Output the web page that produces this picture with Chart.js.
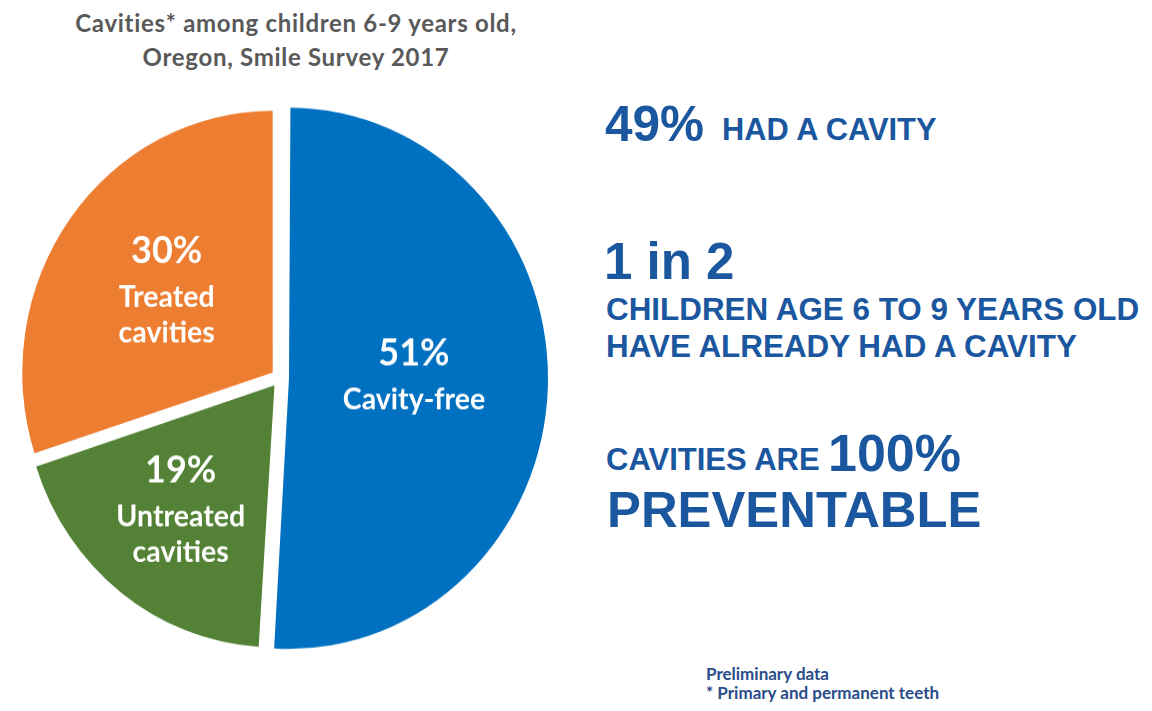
<!DOCTYPE html>
<html>
<head>
<meta charset="utf-8">
<script src="https://cdn.jsdelivr.net/npm/chart.js@4/dist/chart.umd.min.js"></script>
<style>
  html, body { margin: 0; padding: 0; background: #fff; }
  body { width: 1152px; height: 711px; position: relative; overflow: hidden; }
  .title {
    position: absolute; left: 46px; top: 6px; width: 500px;
    text-align: center; font-family: Lato, "Open Sans", sans-serif; font-weight: 700;
    font-size: 24px; letter-spacing: 0.7px; line-height: 34px; color: #595959;
  }
  #pieBox {
    position: absolute; left: 0; top: 100px; width: 560px; height: 556px;
    transform: scaleY(1.045); transform-origin: 50% 50%;
  }
  .fact {
    position: absolute; font-family: "Liberation Sans", Arial, sans-serif; font-weight: 700;
    line-height: 1; color: #1b579f; white-space: nowrap;
  }
  .note {
    position: absolute; left: 706px; top: 664px;
    font-family: Lato, "Open Sans", sans-serif; font-weight: 700;
    font-size: 17px; line-height: 19px; color: #2a4d8a;
  }
</style>
</head>
<body>
<div class="title">Cavities* among children 6-9 years old,<br>Oregon, Smile Survey 2017</div>
<div id="pieBox"><canvas id="pie"></canvas></div>

<div class="fact" style="left:605px; top:99px; font-size:49.5px;">49%</div>
<div class="fact" style="left:722px; top:115px; font-size:30.8px;">HAD A CAVITY</div>
<div class="fact" style="left:604px; top:236px; font-size:51px;">1 in 2</div>
<div class="fact" style="left:606px; top:294px; font-size:31.4px;">CHILDREN AGE 6 TO 9 YEARS OLD</div>
<div class="fact" style="left:606px; top:331px; font-size:31.4px;">HAVE ALREADY HAD A CAVITY</div>
<div class="fact" style="left:606px; top:444px; font-size:31px;">CAVITIES ARE</div>
<div class="fact" style="left:828px; top:427px; font-size:52px;">100%</div>
<div class="fact" style="left:607px; top:485px; font-size:50.8px;">PREVENTABLE</div>

<div class="note">Preliminary data<br>* Primary and permanent teeth</div>

<script>
// shares of children 6-9, clockwise from 12 o'clock
const categories = [['Cavity-free'], ['Untreated', 'cavities'], ['Treated', 'cavities']];
const percents = [51, 19, 30];
const sliceColors = ['#0070c0', '#538135', '#ed7d31'];
// where each slice's text sits: fraction of radius, and a small turn off the mid-angle (deg)
const labelFrac = [0.5, 0.612, 0.524];
const labelTurn = [-2.7, 0, 0];

const sliceLabels = {
  id: 'sliceLabels',
  afterDatasetsDraw(chart) {
    const ctx = chart.ctx;
    const meta = chart.getDatasetMeta(0);
    const shift = chart.data.datasets[0].offset / 4; // chart.js moves arcs by offset/4
    ctx.save();
    ctx.fillStyle = '#ffffff';
    ctx.textAlign = 'center';
    ctx.textBaseline = 'middle';
    meta.data.forEach((arc, i) => {
      const p = arc.getProps(['x', 'y', 'startAngle', 'endAngle', 'outerRadius'], true);
      const mid = (p.startAngle + p.endAngle) / 2;
      const a = mid + labelTurn[i] * Math.PI / 180;
      const ox = p.x + Math.cos(mid) * shift;
      const oy = p.y + Math.sin(mid) * shift;
      const r = labelFrac[i] * p.outerRadius;
      const cx = ox + Math.cos(a) * r;
      const cy = oy + Math.sin(a) * r;
      const names = categories[i];
      const total = 44 + (names.length - 1) * 34.5;
      let y = cy - total / 2;
      ctx.font = '700 36px Lato, "Open Sans", sans-serif';
      ctx.fillText(percents[i] + '%', cx, y);
      y += 44;
      ctx.font = '700 28.5px Lato, "Open Sans", sans-serif';
      names.forEach(n => { ctx.fillText(n, cx, y); y += 34.5; });
    });
    ctx.restore();
  }
};

new Chart(document.getElementById('pie').getContext('2d'), {
  type: 'pie',
  data: {
    labels: categories,
    datasets: [{
      data: percents,
      backgroundColor: sliceColors,
      borderWidth: 0,
      offset: 36
    }]
  },
  options: {
    responsive: true,
    maintainAspectRatio: false,
    animation: false,
    radius: 250,
    layout: { padding: 0 },
    plugins: {
      legend: { display: false },
      tooltip: { enabled: false }
    }
  },
  plugins: [sliceLabels]
});
</script>
</body>
</html>
